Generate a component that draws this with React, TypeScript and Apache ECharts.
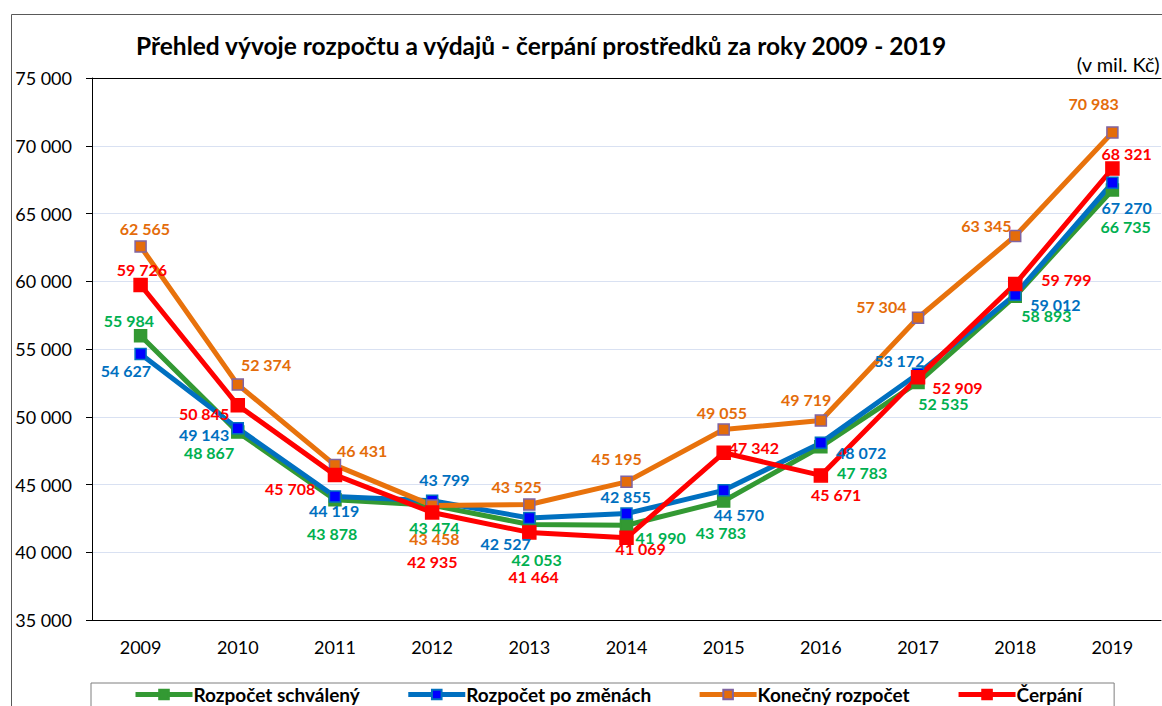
import React, { useEffect, useRef } from "react";
import * as echarts from "echarts";

const years = ["2009", "2010", "2011", "2012", "2013", "2014", "2015", "2016", "2017", "2018", "2019"];
const schvaleny = [55984, 48867, 43878, 43474, 42053, 41990, 43783, 47783, 52535, 58893, 66735];
const poZmenach = [54627, 49143, 44119, 43799, 42527, 42855, 44570, 48072, 53172, 59012, 67270];
const konecny = [62565, 52374, 46431, 43458, 43525, 45195, 49055, 49719, 57304, 63345, 70983];
const cerpani = [59726, 50845, 45708, 42935, 41464, 41069, 47342, 45671, 52909, 59799, 68321];

// label offsets (styling only, relative to each point)
const offGreen = [[-11, -14], [-28, 21], [-2, 35], [3, 23], [8, 36], [35, 13], [-2, 32], [42, 26], [26, 22], [32, 20], [14, 37]];
const offBlue = [[-14, 17], [-33, 7], [0, 15], [13, -21], [-23, 26], [0, -16], [16, 25], [41, 10], [-18, -13], [41, 11], [15, 26]];
const offOrange = [[5, -17], [29, -19], [28, -14], [3, 34], [-12, -17], [-9, -23], [-1, -16], [-14, -20], [-36, -11], [-28, -10], [-18, -28]];
const offRed = [[2, -15], [-33, 9], [-44, 14], [1, 50], [5, 45], [15, 11], [31, -5], [16, 20], [40, 11], [52, -4], [15, -14]];

const FONT = "Lato, 'Open Sans', sans-serif";
const fmt = (v: number) => String(v).replace(/\B(?=(\d{3})+(?!\d))/g, " ");

function mkSeries(name: string, values: number[], offs: number[][], lineColor: string, labelColor: string, symFill: string, symBorder: string, symSize: number) {
  return {
    name,
    type: "line",
    symbol: "rect",
    symbolSize: symSize,
    lineStyle: { color: lineColor, width: 5 },
    itemStyle: { color: symFill, borderColor: symBorder, borderWidth: 1.5 },
    color: lineColor,
    labelLayout: { hideOverlap: false },
    label: {
      show: true,
      align: "center",
      verticalAlign: "middle",
      color: labelColor,
      fontFamily: FONT,
      fontWeight: "bold",
      fontSize: 16,
      formatter: (p: any) => fmt(p.value),
    },
    data: values.map((v, i) => ({
      value: v,
      label: { position: [symSize / 2 + offs[i][0], symSize / 2 + offs[i][1]] },
    })),
  };
}

export default function App() {
  const ref = useRef<HTMLDivElement>(null);
  useEffect(() => {
    document.body.style.margin = "0";
    const chart = echarts.init(ref.current!, null, { renderer: "svg" });
    chart.setOption({
      animation: false,
      backgroundColor: "#fff",
      title: {
        text: "Přehled vývoje rozpočtu a výdajů - čerpání prostředků za roky 2009 - 2019",
        left: 131,
        top: 28,
        textStyle: { fontFamily: FONT, fontWeight: "bold", fontSize: 24.5, color: "#000" },
      },
      graphic: [
        {
          type: "rect",
          left: 9,
          top: 12,
          shape: { width: 1300, height: 900 },
          style: { fill: "none", stroke: "#595959", lineWidth: 1 },
          silent: true,
          z: -10,
        },
        {
          type: "text",
          right: 2,
          top: 54,
          style: { text: "(v mil. Kč)", font: `20px ${FONT}`, fill: "#000" },
        },
      ],
      legend: {
        left: 91,
        top: 683,
        padding: [2, 32, 10, 42],
        borderColor: "#7f7f7f",
        borderWidth: 1,
        itemGap: 46,
        itemWidth: 57,
        itemHeight: 12,
        lineStyle: { width: 5 },
        textStyle: { fontFamily: FONT, fontWeight: "bold", fontSize: 19, color: "#000", padding: [0, 0, 0, -4] },
        data: ["Rozpočet schválený", "Rozpočet po změnách", "Konečný rozpočet", "Čerpání"],
      },
      grid: { left: 92, right: 1, top: 78, bottom: 86 },
      xAxis: [
        {
          type: "category",
          data: years,
          boundaryGap: true,
          axisLine: { lineStyle: { color: "#000", width: 1 } },
          axisTick: { inside: true, length: 6, lineStyle: { color: "#000" } },
          axisLabel: { fontFamily: FONT, fontSize: 18, color: "#000", margin: 18 },
        },
        {
          type: "category",
          data: years,
          position: "top",
          axisLine: { lineStyle: { color: "#000", width: 1 } },
          axisTick: { show: false },
          axisLabel: { show: false },
        },
      ],
      yAxis: {
        type: "value",
        min: 35000,
        max: 75000,
        interval: 5000,
        axisLine: { show: true, lineStyle: { color: "#000" } },
        axisTick: { show: true, length: 6, lineStyle: { color: "#000" } },
        splitLine: { lineStyle: { color: "#d9e1f2", width: 1 } },
        axisLabel: { fontFamily: FONT, fontSize: 18, color: "#000", margin: 20, formatter: (v: number) => fmt(v) },
      },
      series: [
        mkSeries("Rozpočet schválený", schvaleny, offGreen, "#339933", "#00b050", "#339933", "#339933", 12),
        mkSeries("Rozpočet po změnách", poZmenach, offBlue, "#0070c0", "#0070c0", "#0000ff", "#0070c0", 11),
        mkSeries("Konečný rozpočet", konecny, offOrange, "#e8720c", "#e46c0a", "#e46c0a", "#8064a2", 11),
        mkSeries("Čerpání", cerpani, offRed, "#ff0000", "#ff0000", "#ff0000", "#ff0000", 13),
      ],
    });
    return () => chart.dispose();
  }, []);
  return <div ref={ref} style={{ width: 1162, height: 706 }} />;
}
